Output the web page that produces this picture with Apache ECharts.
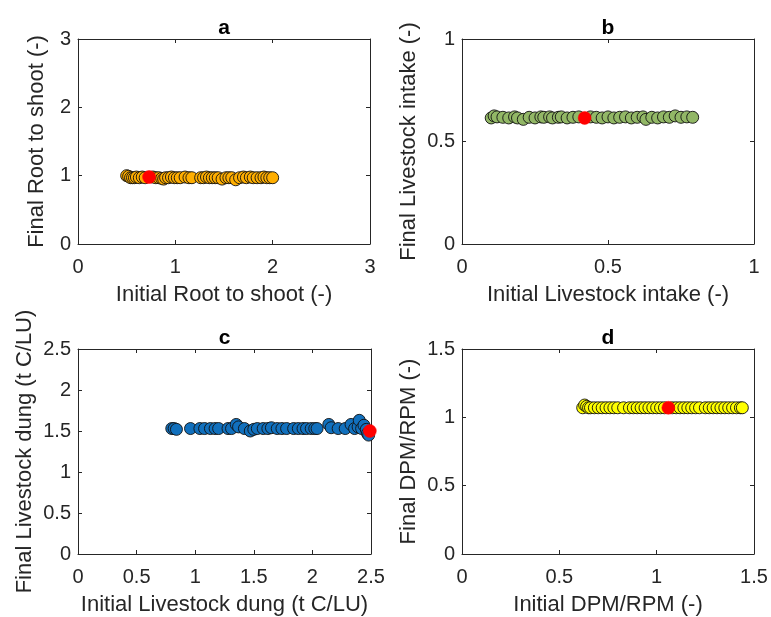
<!DOCTYPE html>
<html>
<head>
<meta charset="utf-8">
<script src="https://cdn.jsdelivr.net/npm/echarts@6/dist/echarts.min.js"></script>
<style>
html,body{margin:0;padding:0;background:#fff;}
#main{width:771px;height:617px;}
</style>
</head>
<body>
<div id="main"></div>
<script>
// Panel a: Root to shoot
const xA = [0.50,0.52,0.54,0.56,0.58,0.60,0.63,0.66,0.69,0.77,0.80,0.83,0.86,0.88,0.90,0.93,0.96,0.99,1.02,1.05,1.10,1.14,1.17,1.26,1.29,1.32,1.35,1.38,1.41,1.44,1.48,1.52,1.55,1.58,1.62,1.66,1.70,1.73,1.77,1.80,1.84,1.88,1.91,1.94,1.97,2.00];
const yA = [1.00,0.99,0.97,0.97,0.97,0.98,0.97,0.98,0.97,0.98,0.97,0.97,0.96,0.95,0.97,0.97,0.98,0.97,0.97,0.97,0.98,0.97,0.97,0.97,0.97,0.98,0.97,0.97,0.97,0.97,0.95,0.97,0.97,0.97,0.94,0.97,0.98,0.97,0.98,0.97,0.97,0.97,0.98,0.97,0.97,0.97];
const redA = [0.73, 0.98];

// Panel b: Livestock intake
const xB = [0.10,0.11,0.12,0.14,0.16,0.18,0.19,0.21,0.23,0.25,0.27,0.28,0.30,0.31,0.33,0.34,0.36,0.38,0.40,0.44,0.46,0.48,0.50,0.52,0.54,0.56,0.58,0.60,0.62,0.63,0.65,0.67,0.69,0.71,0.73,0.75,0.77,0.79];
const yB = [0.615,0.625,0.620,0.618,0.615,0.620,0.615,0.608,0.618,0.615,0.620,0.618,0.620,0.615,0.618,0.620,0.615,0.618,0.620,0.620,0.618,0.615,0.620,0.615,0.618,0.620,0.615,0.618,0.620,0.608,0.618,0.615,0.620,0.618,0.625,0.618,0.620,0.618];
const redB = [0.42, 0.615];

// Panel c: Livestock dung
const xC = [0.80,0.82,0.84,0.96,1.04,1.08,1.13,1.17,1.20,1.28,1.31,1.35,1.37,1.42,1.47,1.50,1.53,1.58,1.62,1.65,1.70,1.74,1.78,1.84,1.88,1.92,1.95,1.99,2.02,2.04,2.14,2.16,2.22,2.28,2.33,2.36,2.39,2.40,2.42,2.44,2.46,2.47,2.48];
const yC = [1.53,1.53,1.52,1.53,1.53,1.53,1.53,1.53,1.53,1.53,1.53,1.58,1.55,1.53,1.50,1.52,1.53,1.53,1.53,1.54,1.53,1.53,1.53,1.53,1.53,1.53,1.53,1.53,1.53,1.53,1.58,1.54,1.53,1.53,1.58,1.53,1.55,1.63,1.53,1.57,1.52,1.47,1.45];
const redC = [2.49, 1.50];

// Panel d: DPM/RPM
const xD = [0.62,0.63,0.64,0.65,0.66,0.68,0.70,0.72,0.74,0.76,0.78,0.80,0.83,0.86,0.88,0.90,0.92,0.94,0.96,0.98,1.00,1.02,1.04,1.08,1.10,1.12,1.14,1.16,1.18,1.20,1.22,1.25,1.27,1.29,1.31,1.33,1.35,1.37,1.39,1.41,1.43,1.44];
const yD = [1.07,1.09,1.08,1.07,1.07,1.07,1.07,1.07,1.07,1.07,1.07,1.07,1.07,1.07,1.07,1.07,1.07,1.07,1.07,1.07,1.07,1.07,1.07,1.07,1.07,1.07,1.07,1.07,1.07,1.07,1.07,1.07,1.07,1.07,1.07,1.07,1.07,1.07,1.07,1.07,1.07,1.07];
const redD = [1.06, 1.07];

const titles = ['a','b','c','d'];
const xNames = ['Initial Root to shoot (-)','Initial Livestock intake (-)','Initial Livestock dung (t C/LU)','Initial DPM/RPM (-)'];
const yNames = ['Final Root to shoot (-)','Final Livestock intake (-)','Final Livestock dung (t C/LU)','Final DPM/RPM (-)'];
const axMax = [3, 1, 2.5, 1.5];
const axInt = [1, 0.5, 0.5, 0.5];
const colors = ['#FFAE00','#92B766','#1170BD','#FFFF00'];
const xs = [xA, xB, xC, xD];
const ys = [yA, yB, yC, yD];
const reds = [redA, redB, redC, redD];

const grids = [
  {left:78, top:39, width:292, height:205},
  {left:462, top:39, width:292, height:205},
  {left:78, top:349, width:293, height:205},
  {left:462, top:349, width:292, height:205}
];
const yNameGaps = [30, 42, 42, 42];

const FONT = 'Liberation Sans, Arial, sans-serif';
const INK = '#262626';

const xAxes = [], yAxes = [], series = [], title = [];
grids.forEach((g, i) => {
  const lineStyle = {color: INK, width: 1};
  xAxes.push({
    type:'value', gridIndex:i, min:0, max:axMax[i], interval:axInt[i],
    position:'bottom', name:xNames[i], nameLocation:'middle', nameGap:40,
    nameTextStyle:{fontFamily:FONT, fontSize:22, color:INK},
    axisLine:{show:true, onZero:false, lineStyle},
    axisTick:{show:true, inside:true, length:4, lineStyle},
    axisLabel:{fontFamily:FONT, fontSize:20, color:INK, margin:13},
    splitLine:{show:false}
  });
  xAxes.push({
    type:'value', gridIndex:i, min:0, max:axMax[i], interval:axInt[i],
    position:'top',
    axisLine:{show:true, onZero:false, lineStyle},
    axisTick:{show:true, inside:true, length:4, lineStyle},
    axisLabel:{show:false}, splitLine:{show:false}
  });
  yAxes.push({
    type:'value', gridIndex:i, min:0, max:axMax[i], interval:axInt[i],
    position:'left', name:yNames[i], nameLocation:'middle', nameGap:yNameGaps[i],
    nameTextStyle:{fontFamily:FONT, fontSize:22, color:INK},
    axisLine:{show:true, onZero:false, lineStyle},
    axisTick:{show:true, inside:true, length:4, lineStyle},
    axisLabel:{fontFamily:FONT, fontSize:20, color:INK, margin:7},
    splitLine:{show:false}
  });
  yAxes.push({
    type:'value', gridIndex:i, min:0, max:axMax[i], interval:axInt[i],
    position:'right',
    axisLine:{show:true, onZero:false, lineStyle},
    axisTick:{show:true, inside:true, length:4, lineStyle},
    axisLabel:{show:false}, splitLine:{show:false}
  });
  series.push({
    type:'scatter', xAxisIndex:2*i, yAxisIndex:2*i,
    data: xs[i].map((x, k) => [x, ys[i][k]]),
    symbolSize:12,
    itemStyle:{color:colors[i], borderColor:'#111', borderWidth:0.9, opacity:1},
    emphasis:{disabled:true}, z:2
  });
  series.push({
    type:'scatter', xAxisIndex:2*i, yAxisIndex:2*i,
    data:[reds[i]], symbolSize:13,
    itemStyle:{color:'#FF0000', borderColor:'#FF0000', borderWidth:0.5, opacity:1},
    emphasis:{disabled:true}, z:3
  });
  title.push({
    text: titles[i], left: g.left + g.width/2, top: g.top - 21, textAlign:'center', padding:0,
    textStyle:{fontFamily:FONT, fontSize:21, fontWeight:'bold', color:'#000'}
  });
});

const chart = echarts.init(document.getElementById('main'), null, {renderer:'canvas'});
chart.setOption({
  animation:false,
  backgroundColor:'#fff',
  title, grid:grids, xAxis:xAxes, yAxis:yAxes, series
});
</script>
</body>
</html>
